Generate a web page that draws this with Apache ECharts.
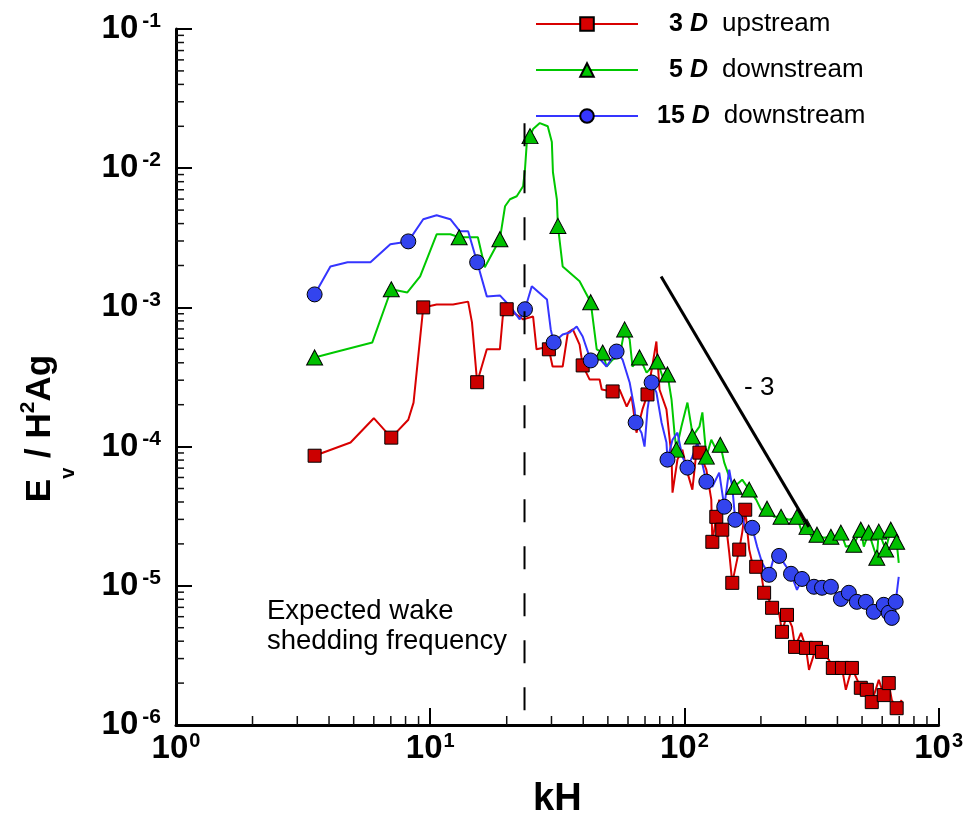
<!DOCTYPE html>
<html>
<head>
<meta charset="utf-8">
<script src="https://cdn.jsdelivr.net/npm/echarts@6/dist/echarts.min.js"></script>
<style>html,body{margin:0;padding:0;background:#fff;}#chart{width:966px;height:824px;}</style>
</head>
<body>
<div id="chart"></div>
<script>
// ---- data ----
const seriesNames = ['3D', '5D', '15D'];
const legendLabels = { '3D': ['3', 'upstream'], '5D': ['5', 'downstream'], '15D': ['15', 'downstream'] };

const redLine = [
  [3.51, 8.6e-5], [4.86, 1.07e-4], [6.0, 1.6e-4], [7.03, 1.16e-4], [8.2, 1.56e-4], [8.6, 2.07e-4],
  [9.39, 1.0e-3], [10.6, 1.05e-3], [12.3, 1.05e-3], [14.1, 1.1e-3], [14.6, 7.8e-4], [15.3, 2.9e-4],
  [16.7, 5.0e-4], [18.8, 5.0e-4], [19.3, 8.6e-4], [20.0, 9.7e-4], [22.5, 8.6e-4], [23.2, 8.2e-4],
  [25.4, 8.6e-4], [26.2, 5.0e-4], [28.8, 5.2e-4], [29.3, 5.0e-4], [30.3, 3.76e-4], [33.2, 3.76e-4],
  [34.8, 6.6e-4], [36.4, 6.95e-4], [38.7, 5.4e-4], [39.8, 3.83e-4], [42.4, 3.03e-4], [46.4, 3.03e-4],
  [47.3, 2.57e-4], [52.2, 2.49e-4], [55.6, 2.57e-4], [59.3, 1.94e-4], [62.0, 2.29e-4], [64.8, 1.26e-4],
  [68.4, 1.85e-4], [71.6, 2.37e-4], [77.6, 5.69e-4], [79.8, 2.57e-4], [85.0, 1.85e-4], [89.0, 8.47e-5],
  [89.8, 4.67e-5], [93.9, 8.06e-5], [98.2, 9.51e-5], [102.8, 6.5e-5], [107.5, 4.91e-5], [111.4, 9.05e-5],
  [114.6, 9.05e-5], [122, 6.84e-5], [127.6, 4.16e-5], [128.8, 2.07e-5], [133.5, 3.13e-5], [137.1, 4.16e-5],
  [140.9, 2.53e-5], [146.1, 2.65e-5], [150.1, 1.73e-5], [154.3, 1.05e-5], [164.3, 1.82e-5], [168.8, 2.41e-5],
  [173.5, 3.52e-5], [179.9, 1.82e-5], [184.9, 1.46e-5], [191.6, 1.37e-5], [200.4, 1.24e-5], [205.9, 8.91e-6],
  [215.3, 7.93e-6], [221.3, 6.95e-6], [235.8, 6.4e-6], [242, 4.67e-6], [253.3, 6.18e-6], [265.3, 5.07e-6],
  [272.5, 3.64e-6], [287.7, 4.59e-6], [300.8, 3.58e-6], [309.2, 2.49e-6], [329.4, 3.58e-6], [347.9, 3.35e-6],
  [370.5, 2.94e-6], [383.7, 2.57e-6], [416.7, 2.57e-6], [431.7, 1.79e-6], [456, 2.57e-6], [494.4, 1.85e-6],
  [522, 1.79e-6], [546, 1.46e-6], [581.9, 2.11e-6], [608.5, 1.64e-6], [636.8, 2.0e-6], [654.6, 1.51e-6],
  [684, 1.32e-6], [716, 1.51e-6]
];
const redMarks = [
  [3.51, 8.6e-5], [7.03, 1.16e-4], [9.39, 1.0e-3], [15.3, 2.9e-4], [20.0, 9.7e-4], [29.3, 5.0e-4],
  [39.8, 3.83e-4], [52.2, 2.49e-4], [71.6, 2.37e-4], [114.6, 9.05e-5], [128.8, 2.07e-5], [133.5, 3.13e-5],
  [140.9, 2.53e-5], [154.3, 1.05e-5], [164.3, 1.82e-5], [173.5, 3.52e-5], [191.6, 1.37e-5], [205.9, 8.91e-6],
  [221.3, 6.95e-6], [242, 4.67e-6], [253.3, 6.18e-6], [272.5, 3.64e-6], [300.8, 3.58e-6], [329.4, 3.58e-6],
  [347.9, 3.35e-6], [383.7, 2.57e-6], [416.7, 2.57e-6], [456, 2.57e-6], [494.4, 1.85e-6], [522, 1.79e-6],
  [546, 1.46e-6], [608.5, 1.64e-6], [636.8, 2.0e-6], [684, 1.32e-6]
];

const greenLine = [
  [3.51, 4.37e-4], [4.17, 4.74e-4], [5.92, 5.6e-4], [7.03, 1.35e-3], [8.13, 1.28e-3], [9.13, 1.67e-3],
  [10.6, 3.35e-3], [12.0, 3.35e-3], [13.0, 3.19e-3], [15.4, 3.19e-3], [16.4, 1.94e-3], [18.8, 3.09e-3],
  [19.7, 5.33e-3], [20.6, 5.98e-3], [21.9, 6.29e-3], [23.2, 7.42e-3], [23.6, 9.83e-3], [24.0, 1.54e-2],
  [24.7, 1.7e-2], [25.4, 1.91e-2], [27.0, 2.11e-2], [29.0, 2.0e-2], [30.1, 1.54e-2], [30.4, 9.35e-3],
  [31.5, 5.98e-3], [31.8, 3.85e-3], [33.2, 1.97e-3], [38.7, 1.54e-3], [42.8, 1.09e-3], [45.2, 5.0e-4],
  [47.7, 4.74e-4], [49.4, 3.76e-4], [52.2, 4.22e-4], [55.6, 4.44e-4], [58.2, 6.95e-4], [60.9, 5.89e-4],
  [62.5, 3.76e-4], [66.6, 4.37e-4], [71.0, 3.4e-4], [74.9, 3.76e-4], [78.4, 4.09e-4], [82.0, 3.19e-4],
  [85.8, 3.3e-4], [89.0, 2.18e-4], [91.4, 1.26e-4], [93.0, 9.51e-5], [97.3, 1.39e-4], [102.8, 2.07e-4],
  [106.5, 1.39e-4], [107.5, 1.18e-4], [114.6, 1.39e-4], [117.7, 1.76e-4], [122, 8.47e-5], [127.6, 1.12e-4],
  [133.5, 9.51e-5], [138.4, 1.03e-4], [143.5, 7.67e-5], [150.1, 6.08e-5], [157.1, 5.15e-5], [168.8, 5.79e-5],
  [179.9, 4.91e-5], [191.6, 4.16e-5], [200.4, 3.52e-5], [211.4, 3.58e-5], [225.4, 3.13e-5], [240, 3.13e-5],
  [258.2, 2.98e-5], [277.3, 3.13e-5], [290.2, 2.41e-5], [303.6, 2.65e-5], [317.7, 2.21e-5], [332.4, 2.33e-5],
  [354, 2.21e-5], [377, 2.25e-5], [394.5, 2.14e-5], [412.7, 2.41e-5], [431.7, 1.91e-5], [464.1, 1.97e-5],
  [494.4, 2.53e-5], [508, 1.91e-5], [531, 2.41e-5], [571.4, 1.59e-5], [581.9, 2.45e-5], [619.4, 1.82e-5],
  [648.6, 2.53e-5], [684, 2.07e-5], [697, 1.46e-5]
];
const greenMarks = [
  [3.51, 4.37e-4], [7.03, 1.35e-3], [13.0, 3.19e-3], [18.8, 3.09e-3], [24.7, 1.7e-2], [31.8, 3.85e-3],
  [42.8, 1.09e-3], [47.7, 4.74e-4], [58.2, 6.95e-4], [66.6, 4.37e-4], [78.4, 4.09e-4], [85.8, 3.3e-4],
  [93.0, 9.51e-5], [107.5, 1.18e-4], [122, 8.47e-5], [138.4, 1.03e-4], [157.1, 5.15e-5], [179.9, 4.91e-5],
  [211.4, 3.58e-5], [240, 3.13e-5], [277.3, 3.13e-5], [303.6, 2.65e-5], [332.4, 2.33e-5], [377, 2.25e-5],
  [412.7, 2.41e-5], [464.1, 1.97e-5], [494.4, 2.53e-5], [531, 2.41e-5], [571.4, 1.59e-5], [581.9, 2.45e-5],
  [619.4, 1.82e-5], [648.6, 2.53e-5], [684, 2.07e-5]
];

const blueLine = [
  [3.51, 1.24e-3], [4.05, 1.97e-3], [4.73, 2.11e-3], [5.82, 2.11e-3], [6.97, 2.84e-3], [8.2, 2.98e-3],
  [9.39, 4.3e-3], [10.6, 4.59e-3], [12.0, 4.3e-3], [13.1, 3.52e-3], [14.1, 3.52e-3], [15.3, 2.11e-3],
  [16.7, 1.2e-3], [18.8, 1.22e-3], [20.6, 1.02e-3], [22.5, 8.2e-4], [23.6, 9.7e-4], [25.1, 1.42e-3],
  [28.8, 1.14e-3], [29.8, 6.95e-4], [30.6, 5.6e-4], [33.2, 6.39e-4], [35.4, 6.61e-4], [37.7, 7.3e-4],
  [39.8, 6.18e-4], [42.8, 4.16e-4], [45.6, 4.44e-4], [49.4, 3.76e-4], [54.1, 4.82e-4], [57.1, 4.22e-4],
  [60.9, 2.89e-4], [63.7, 1.85e-4], [64.3, 1.49e-4], [67.8, 1.26e-4], [69.7, 1.0e-4], [71.6, 1.85e-4],
  [74.3, 2.89e-4], [77.6, 2.45e-4], [81.3, 1.49e-4], [85.0, 1.07e-4], [85.8, 8.06e-5], [89.8, 1.12e-4],
  [93.9, 1.26e-4], [98.2, 8.47e-5], [102.8, 7.06e-5], [107.5, 8.47e-5], [112.5, 1.07e-4], [116.6, 8.06e-5],
  [122, 5.6e-5], [128.8, 5.15e-5], [137.1, 6.5e-5], [143.5, 3.7e-5], [150.1, 6.84e-5], [154.3, 5.15e-5],
  [158.5, 2.98e-5], [167.4, 3.35e-5], [175.0, 2.41e-5], [184.9, 2.61e-5], [193.3, 1.91e-5], [202.3, 1.46e-5],
  [215.3, 1.2e-5], [225.4, 1.62e-5], [235.8, 1.64e-5], [262.7, 1.22e-5], [277.3, 9.35e-6], [290.2, 1.12e-5],
  [323.4, 9.84e-6], [347.9, 9.68e-6], [377, 9.84e-6], [412.7, 8.05e-6], [443.6, 8.91e-6], [476.8, 7.67e-6],
  [517.5, 7.67e-6], [555.9, 6.5e-6], [608.5, 7.3e-6], [636.8, 6.4e-6], [654.6, 5.88e-6], [678, 7.67e-6],
  [697, 1.16e-5]
];
const blueMarks = [
  [3.51, 1.24e-3], [8.2, 2.98e-3], [15.3, 2.11e-3], [23.6, 9.7e-4], [30.6, 5.6e-4], [42.8, 4.16e-4],
  [54.1, 4.82e-4], [64.3, 1.49e-4], [74.3, 2.89e-4], [85.8, 8.06e-5], [102.8, 7.06e-5], [122, 5.6e-5],
  [143.5, 3.7e-5], [158.5, 2.98e-5], [184.9, 2.61e-5], [215.3, 1.2e-5], [235.8, 1.64e-5], [262.7, 1.22e-5],
  [290.2, 1.12e-5], [323.4, 9.84e-6], [347.9, 9.68e-6], [377, 9.84e-6], [412.7, 8.05e-6], [443.6, 8.91e-6],
  [476.8, 7.67e-6], [517.5, 7.67e-6], [555.9, 6.5e-6], [608.5, 7.3e-6], [636.8, 6.4e-6], [654.6, 5.88e-6],
  [678, 7.67e-6]
];

// -3 slope reference line and expected shedding frequency
const slopeLine = [[81, 1.67e-3], [309, 2.65e-5]];
const sheddingLine = [[23.5, 2.1e-2], [23.5, 1e-6]];

// axis ranges and minor tick values
const xRange = [1, 1000];
const yRange = [1e-6, 1e-1];
const xMinorTicks = [2,3,4,5,6,7,8,9,20,30,40,50,60,70,80,90,200,300,400,500,600,700,800,900];
const yMinorTicks = [
  2e-6,3e-6,4e-6,5e-6,6e-6,7e-6,8e-6,9e-6,
  2e-5,3e-5,4e-5,5e-5,6e-5,7e-5,8e-5,9e-5,
  2e-4,3e-4,4e-4,5e-4,6e-4,7e-4,8e-4,9e-4,
  2e-3,3e-3,4e-3,5e-3,6e-3,7e-3,8e-3,9e-3,
  2e-2,3e-2,4e-2,5e-2,6e-2,7e-2,8e-2,9e-2
];

// ---- chart ----
const FONT = '"Liberation Sans", Arial, sans-serif';
const RED = '#d80000', GREEN = '#00c800', BLUE = '#3535ff';
const chart = echarts.init(document.getElementById('chart'), null, { renderer: 'canvas' });

function expLabel(v) {
  const e = Math.round(Math.log10(v));
  return '{b|10}{s|' + (e < 0 ? '-' + (-e) : e) + '}';
}

function minorTickSeries(values, isX) {
  return {
    type: 'custom', coordinateSystem: 'cartesian2d', silent: true, clip: false, z: 6,
    data: values.map(v => isX ? [v, yRange[0]] : [xRange[0], v]),
    renderItem: function (params, api) {
      const p = api.coord([api.value(0), api.value(1)]);
      const shape = isX ? { x1: p[0], y1: p[1], x2: p[0], y2: p[1] - 9 }
                        : { x1: p[0], y1: p[1], x2: p[0] + 8, y2: p[1] };
      return { type: 'line', shape: shape, style: { stroke: '#111', lineWidth: 1.5 } };
    }
  };
}

function lineSeries(name, data, color, symbol, size) {
  return {
    name: name, type: 'line', data: data, showSymbol: false, symbol: symbol, symbolSize: size,
    lineStyle: { color: color, width: 2 },
    itemStyle: { color: color, borderColor: '#000', borderWidth: 1 },
    emphasis: { disabled: true }, z: 3
  };
}
function markSeries(data, color, symbol, size) {
  return {
    type: 'scatter', data: data, symbol: symbol, symbolSize: size,
    itemStyle: { color: color, borderColor: '#000', borderWidth: 1, opacity: 1 },
    emphasis: { disabled: true }, z: 4
  };
}

const option = {
  animation: false,
  backgroundColor: '#fff',
  textStyle: { fontFamily: FONT },
  grid: { left: 176, right: 26, top: 29, bottom: 99, containLabel: false },
  legend: {
    orient: 'vertical', left: 530, top: 6, itemWidth: 102, itemHeight: 17, itemGap: 20,
    selectedMode: false, data: seriesNames,
    formatter: function (name) {
      const l = legendLabels[name];
      return '{' + (l[0].length > 1 ? 'nn' : 'n') + '|' + l[0] + '}{d|D}{w|' + l[1] + '}';
    },
    textStyle: {
      fontFamily: FONT, color: '#000',
      rich: {
        n: { fontFamily: FONT, fontSize: 25, fontWeight: 'bold', padding: [0, 0, 0, 26] },
        nn: { fontFamily: FONT, fontSize: 25, fontWeight: 'bold', padding: [0, 0, 0, 14] },
        d: { fontFamily: FONT, fontSize: 25, fontWeight: 'bold', fontStyle: 'italic', padding: [0, 0, 0, 7] },
        w: { fontFamily: FONT, fontSize: 26, padding: [0, 0, 0, 14] }
      }
    }
  },
  xAxis: {
    type: 'log', logBase: 10, min: xRange[0], max: xRange[1],
    name: 'kH', nameLocation: 'middle', nameGap: 56,
    nameTextStyle: { fontFamily: FONT, fontSize: 38, fontWeight: 'bold', color: '#000' },
    axisLine: { show: true, onZero: false, lineStyle: { color: '#000', width: 3 } },
    axisTick: { show: true, inside: true, length: 17, lineStyle: { color: '#000', width: 2 } },
    splitLine: { show: false },
    axisLabel: {
      margin: 6, showMinLabel: true, showMaxLabel: true, color: '#000', formatter: expLabel,
      rich: {
        b: { fontFamily: FONT, fontSize: 33, fontWeight: 'bold', lineHeight: 36 },
        s: { fontFamily: FONT, fontSize: 20, fontWeight: 'bold', verticalAlign: 'top', lineHeight: 14, padding: [0, 0, 0, 1] }
      }
    }
  },
  yAxis: {
    type: 'log', logBase: 10, min: yRange[0], max: yRange[1],
    name: '{e|E}{v|v}{t| / H}{s|2}{t|Ag}', nameLocation: 'middle', nameRotate: 90, nameGap: 98,
    nameTextStyle: {
      color: '#000', padding: [0, 103, 0, 0],
      rich: {
        e: { fontFamily: FONT, fontSize: 35, fontWeight: 'bold', verticalAlign: 'top', padding: [5, 0, 0, 0] },
        v: { fontFamily: FONT, fontSize: 20, fontWeight: 'bold', verticalAlign: 'bottom', lineHeight: 60 },
        t: { fontFamily: FONT, fontSize: 35, fontWeight: 'bold', verticalAlign: 'top', padding: [5, 0, 0, 0] },
        s: { fontFamily: FONT, fontSize: 21, fontWeight: 'bold', verticalAlign: 'top' }
      }
    },
    axisLine: { show: true, onZero: false, lineStyle: { color: '#000', width: 3 } },
    axisTick: { show: true, inside: true, length: 16, lineStyle: { color: '#000', width: 2 } },
    splitLine: { show: false },
    axisLabel: {
      margin: 15, showMinLabel: true, showMaxLabel: true, color: '#000', formatter: expLabel,
      rich: {
        b: { fontFamily: FONT, fontSize: 33, fontWeight: 'bold', lineHeight: 36 },
        s: { fontFamily: FONT, fontSize: 21, fontWeight: 'bold', verticalAlign: 'top', lineHeight: 14, padding: [0, 0, 0, 4] }
      }
    }
  },
  series: [
    lineSeries('3D', redLine, RED, 'rect', 14),
    markSeries(redMarks, '#cc0000', 'rect', 13),
    lineSeries('5D', greenLine, GREEN, 'triangle', 14),
    markSeries(greenMarks, '#00c000', 'triangle', [16, 15]),
    lineSeries('15D', blueLine, BLUE, 'circle', 14),
    markSeries(blueMarks, '#3344ee', 'circle', 15),
    {
      type: 'line', data: slopeLine, symbol: 'none', silent: true, z: 5,
      lineStyle: { color: '#000', width: 3 }
    },
    {
      type: 'line', data: sheddingLine, symbol: 'none', silent: true, z: 5,
      lineStyle: { color: '#000', width: 2, type: [23, 24] }
    },
    minorTickSeries(xMinorTicks, true),
    minorTickSeries(yMinorTicks, false)
  ],
  graphic: [
    {
      type: 'text', x: 744, y: 388, silent: true,
      style: { text: '- 3', fontFamily: FONT, fontSize: 26, fill: '#000', verticalAlign: 'middle' }
    },
    {
      type: 'text', x: 267, y: 596, silent: true,
      style: { text: 'Expected wake\nshedding frequency', fontFamily: FONT, fontSize: 27.5, lineHeight: 30, fill: '#000' }
    }
  ]
};
chart.setOption(option);
</script>
</body>
</html>
